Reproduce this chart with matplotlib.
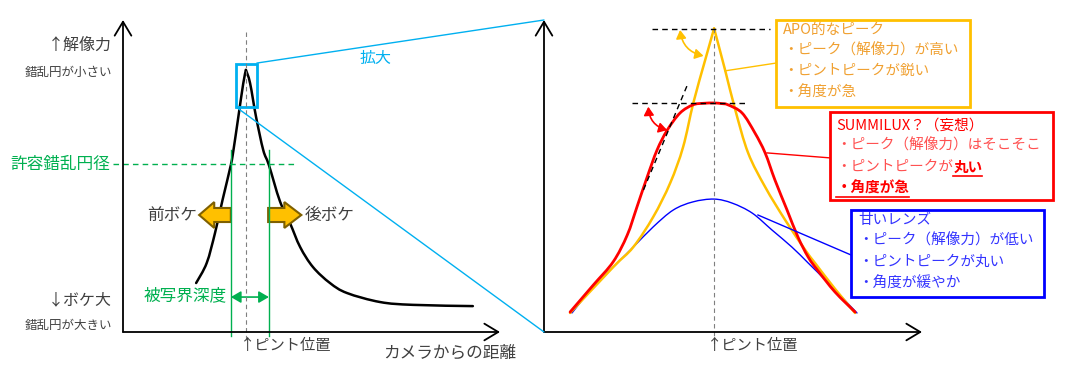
import matplotlib.pyplot as plt
from matplotlib.path import Path
from matplotlib.patches import Rectangle, FancyArrow, FancyArrowPatch, ConnectionPatch, PathPatch

plt.rcParams['font.family'] = ['Noto Sans CJK JP', 'DejaVu Sans']

# left panel: distance from camera vs resolution (0-100 units)
dist = [19.4, 22.2, 24.4, 26.4, 28.6, 29.3, 30.6, 31.9, 32.6, 33.7, 35.3, 37.2,
        38.7, 41.6, 44.3, 47.0, 50.4, 54.9, 59.4, 68.2, 76.9, 92.8]
resol = [15.7, 22.1, 31.7, 42.3, 53.5, 58.3, 69.0, 79.7, 84.0, 79.8, 68.9, 58.3,
         53.5, 42.0, 34.9, 27.2, 20.8, 15.7, 12.5, 9.6, 8.7, 8.3]
focus_left = 32.6
coc_limit = 53.8
dof = [28.6, 38.7]

# right panel: zoomed peak, offset from focus position
apo_x = [-38.1, -26.7, -21.4, -16.1, -11.6, -8.2, -5.5, -2.4, 0.0,
         2.9, 5.6, 9.0, 13.5, 18.8, 24.1, 26.7, 32.0, 37.3]
apo_y = [6.1, 20.8, 27.2, 36.9, 47.8, 59.3, 73.4, 87.0, 97.3,
         84.0, 71.2, 57.4, 46.5, 35.9, 26.3, 22.1, 13.8, 6.1]
sum_x = [-38.1, -32.0, -26.7, -23.0, -20.4, -17.7, -15.1, -12.4, -9.0, -5.6, -2.8, 0.0,
         2.0, 3.7, 7.4, 10.8, 13.5, 16.1, 19.3, 22.2, 24.9, 27.5, 32.0, 37.3]
sum_y = [6.4, 15.0, 22.5, 31.0, 40.1, 49.7, 58.3, 64.7, 70.2, 72.8, 73.3, 73.4,
         73.2, 72.8, 70.2, 63.8, 57.4, 48.7, 39.1, 30.4, 24.0, 19.6, 12.8, 6.4]
soft_x = [-37.6, -32.0, -26.7, -21.4, -16.1, -10.8, -5.6, 0.0,
          4.8, 10.1, 15.3, 20.6, 24.9, 30.2, 37.8]
soft_y = [6.1, 14.4, 20.8, 27.2, 33.7, 39.1, 41.7, 42.6,
          41.3, 38.1, 32.7, 27.2, 22.1, 15.7, 6.1]

GREEN = '#00B050'
CYAN = '#00B0F0'
ORANGE = '#FFC000'
RED = '#FF0000'
TXT = '#404040'


def smooth(ax, xs, ys, **kw):
    """Draw a smooth curve through the points (Catmull-Rom as Bezier segments)."""
    pts = list(zip(xs, ys))
    verts = [pts[0]]
    codes = [Path.MOVETO]
    n = len(pts)
    for i in range(n - 1):
        p0 = pts[max(i - 1, 0)]
        p1 = pts[i]
        p2 = pts[i + 1]
        p3 = pts[min(i + 2, n - 1)]
        c1 = (p1[0] + (p2[0] - p0[0]) / 6, p1[1] + (p2[1] - p0[1]) / 6)
        c2 = (p2[0] - (p3[0] - p1[0]) / 6, p2[1] - (p3[1] - p1[1]) / 6)
        verts += [c1, c2, p2]
        codes += [Path.CURVE4] * 3
    ax.add_patch(PathPatch(Path(verts, codes), fill=False, capstyle='round', **kw))


fig = plt.figure(figsize=(10.77, 3.70), dpi=100)
ax1 = fig.add_axes([123 / 1077, 38 / 370, 377 / 1077, 312 / 370])
ax2 = fig.add_axes([544 / 1077, 38 / 370, 378 / 1077, 312 / 370])
ax1.set_xlim(0, 100)
ax1.set_ylim(0, 100)
ax2.set_xlim(-45, 55)
ax2.set_ylim(0, 100)

for ax, x0, x1 in [(ax1, 0, 100), (ax2, -45, 55)]:
    ax.axis('off')
    style = '->,head_length=0.5,head_width=0.3'
    ax.annotate('', xy=(x0, 100), xytext=(x0, 0),
                arrowprops=dict(arrowstyle=style, lw=1.3, color='black', mutation_scale=20,
                                shrinkA=0, shrinkB=0), annotation_clip=False)
    ax.annotate('', xy=(x1, 0), xytext=(x0, 0),
                arrowprops=dict(arrowstyle=style, lw=1.3, color='black', mutation_scale=20,
                                shrinkA=0, shrinkB=0), annotation_clip=False)

# ---- left panel ----
ax1.plot([focus_left, focus_left], [96.2, -2.6], color='#7F7F7F', lw=0.8,
         dashes=(4, 3), clip_on=False)
ax1.plot([-2.7, 45.6], [coc_limit, coc_limit], color=GREEN, lw=1, dashes=(4, 3), clip_on=False)
for d in dof:
    ax1.plot([d, d], [58.3, -1.3], color=GREEN, lw=1, clip_on=False)
pk = resol.index(max(resol))
smooth(ax1, dist[:pk + 1], resol[:pk + 1], edgecolor='black', lw=1.8)
smooth(ax1, dist[pk:], resol[pk:], edgecolor='black', lw=1.8)

ax1.add_patch(Rectangle((30.0, 72.1), 5.5, 13.8, fill=False, edgecolor=CYAN, lw=2))

ax1.add_patch(FancyArrow(dof[0], 37.5, -8.4, 0, width=4.5, head_width=8.3, head_length=4.0,
                         length_includes_head=True, facecolor=ORANGE, edgecolor='#7F6000', lw=1.5))
ax1.add_patch(FancyArrow(dof[1] - 0.2, 37.5, 8.8, 0, width=4.5, head_width=8.3, head_length=4.5,
                         length_includes_head=True, facecolor=ORANGE, edgecolor='#7F6000', lw=1.5))
ax1.add_patch(FancyArrowPatch((dof[0], 11.2), (dof[1], 11.2),
                              arrowstyle='<|-|>,head_length=6,head_width=3.5', color=GREEN,
                              lw=1.2, shrinkA=0, shrinkB=0, clip_on=False))

ax1.text(19.6, 37.5, '前ボケ', ha='right', va='center', fontsize=12, color=TXT)
ax1.text(48.3, 37.5, '後ボケ', ha='left', va='center', fontsize=12, color=TXT)
ax1.text(27.6, 11.5, '被写界深度', ha='right', va='center', fontsize=12, color=GREEN)
ax1.text(-3.4, coc_limit, '許容錯乱円径', ha='right', va='center', fontsize=12, color=GREEN)
ax1.text(-2.9, 92.0, '↑解像力', ha='right', va='center', fontsize=11.5, color=TXT)
ax1.text(-2.9, 83.3, '錯乱円が小さい', ha='right', va='center', fontsize=9, color=TXT)
ax1.text(-2.9, 10.3, '↓ボケ大', ha='right', va='center', fontsize=11.5, color=TXT)
ax1.text(-2.9, 2.2, '錯乱円が大きい', ha='right', va='center', fontsize=9, color=TXT)
ax1.text(31.0, -4.2, '↑ピント位置', ha='left', va='center', fontsize=11, color=TXT)
ax1.text(69.0, -6.9, 'カメラからの距離', ha='left', va='center', fontsize=12, color=TXT)
ax1.text(67.1, 87.5, '拡大', ha='center', va='center', fontsize=11.5, color=CYAN)

# zoom guide lines
fig.add_artist(ConnectionPatch((35.5, 86.2), (-45, 100), 'data', 'data', axesA=ax1, axesB=ax2,
                               color=CYAN, lw=1))
fig.add_artist(ConnectionPatch((30.0, 72.1), (-45, 0), 'data', 'data', axesA=ax1, axesB=ax2,
                               color=CYAN, lw=1))

# ---- right panel ----
ax2.plot([0, 0], [97.3, -4.0], color='#7F7F7F', lw=0.8, dashes=(4, 3), clip_on=False)
ax2.plot([-16.4, 14.8], [97.1, 97.1], color='black', lw=1, dashes=(4, 3))
ax2.plot([-21.7, 9.0], [73.4, 73.4], color='black', lw=1, dashes=(4, 3))
ax2.plot([-7.2, -18.7], [78.8, 45.5], color='black', lw=1, dashes=(4, 3))

smooth(ax2, soft_x, soft_y, edgecolor='#0000FF', lw=1)
pk = apo_y.index(max(apo_y))
smooth(ax2, apo_x[:pk + 1], apo_y[:pk + 1], edgecolor=ORANGE, lw=1.8)
smooth(ax2, apo_x[pk:], apo_y[pk:], edgecolor=ORANGE, lw=1.8)
smooth(ax2, sum_x, sum_y, edgecolor=RED, lw=2)

ax2.add_patch(FancyArrowPatch((-9.0, 96.8), (-2.8, 88.5), connectionstyle='arc3,rad=0.35',
                              arrowstyle='<|-|>,head_length=5,head_width=3', color=ORANGE,
                              lw=1.2, shrinkA=0, shrinkB=0))
ax2.add_patch(FancyArrowPatch((-17.4, 72.2), (-12.4, 64.7), connectionstyle='arc3,rad=0.35',
                              arrowstyle='<|-|>,head_length=5,head_width=3', color=RED,
                              lw=1.2, shrinkA=0, shrinkB=0))

ax2.text(-1.9, -4.2, '↑ピント位置', ha='left', va='center', fontsize=11, color=TXT)

# annotation boxes
ax2.plot([2.9, 16.4], [83.7, 86.2], color=ORANGE, lw=1, clip_on=False)
ax2.plot([14.0, 30.7], [57.4, 55.8], color=RED, lw=1, clip_on=False)
ax2.plot([11.6, 36.2], [37.5, 24.7], color='#0000FF', lw=1, clip_on=False)

ax2.add_patch(Rectangle((16.4, 72.1), 51.3, 27.9, fill=False, edgecolor=ORANGE, lw=2,
                        clip_on=False, zorder=3))
ax2.add_patch(Rectangle((30.7, 42.3), 59.0, 28.2, fill=False, edgecolor=RED, lw=2,
                        clip_on=False, zorder=3))
ax2.add_patch(Rectangle((36.2, 11.2), 51.1, 27.9, fill=False, edgecolor='#0000FF', lw=2,
                        clip_on=False, zorder=3))

apo_lines = ['APO的なピーク', '・ピーク（解像力）が高い', '・ピントピークが鋭い', '・角度が急']
for s, y in zip(apo_lines, [96.8, 90.4, 83.7, 76.6]):
    ax2.text(18.3, y, s, ha='left', va='center', fontsize=10.5, color='#F0A030', clip_on=False)

soft_lines = ['甘いレンズ', '・ピーク（解像力）が低い', '・ピントピークが丸い', '・角度が緩やか']
for s, y in zip(soft_lines, [35.9, 29.2, 22.4, 15.4]):
    ax2.text(38.1, y, s, ha='left', va='center', fontsize=10.5, color='#3333FF', clip_on=False)

ax2.text(32.3, 66.3, 'SUMMILUX？（妄想）', ha='left', va='center', fontsize=10.5, color=RED)
ax2.text(32.3, 59.9, '・ピーク（解像力）はそこそこ', ha='left', va='center', fontsize=10.5,
         color='#FF5050')
t_a = ax2.text(32.3, 52.9, '・ピントピークが', ha='left', va='center', fontsize=10.5,
               color='#FF5050')
t_b = ax2.annotate('丸い', xy=(1, 0.5), xycoords=t_a, ha='left', va='center', fontsize=10.5,
                   color=RED, fontweight='bold')
t_c = ax2.text(32.3, 46.2, '・角度が急', ha='left', va='center', fontsize=10.5, color=RED,
               fontweight='bold')

# underline the bold phrases
fig.canvas.draw()
W = fig.dpi * fig.get_figwidth()
H = fig.dpi * fig.get_figheight()
for t in (t_b, t_c):
    bb = t.get_window_extent()
    fig.add_artist(plt.Line2D([bb.x0 / W, bb.x1 / W], [(bb.y0 - 1) / H] * 2, color=RED, lw=1.2))

fig.savefig('out.png', dpi=100)
